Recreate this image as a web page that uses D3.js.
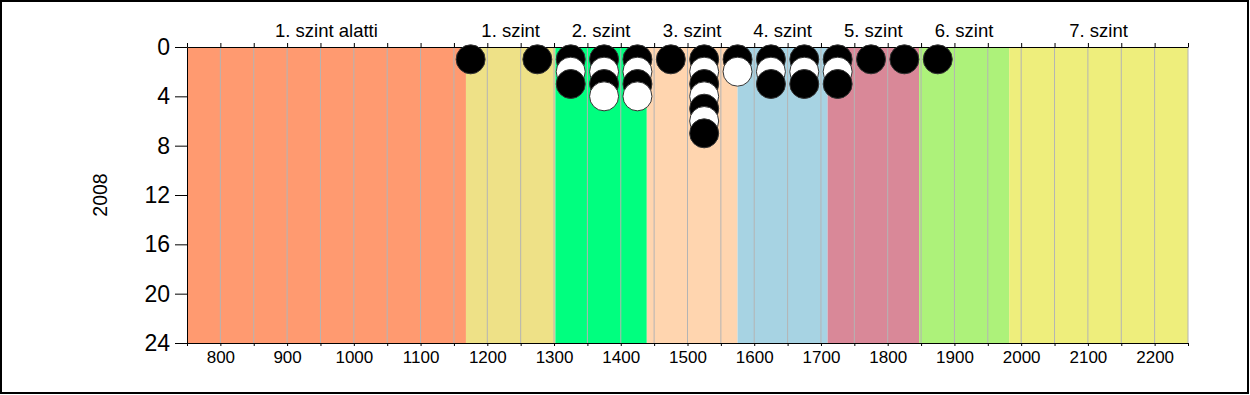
<!DOCTYPE html>
<html>
<head>
<meta charset="utf-8">
<script src="https://cdn.jsdelivr.net/npm/d3@7"></script>
<style>
  html, body { margin: 0; padding: 0; background: #fff; }
  svg { display: block; font-family: "Liberation Sans", Arial, sans-serif; }
</style>
</head>
<body>
<div id="chart"></div>
<script>
// level bands (edges on the score axis)
const bandNames = ['1. szint alatti', '1. szint', '2. szint', '3. szint', '4. szint', '5. szint', '6. szint', '7. szint'];
const bandEdges = [750, 1168, 1302, 1439, 1575, 1710, 1847, 1982, 2250];
const bandColors = ['#FF9A70', '#EEE187', '#00FF7F', '#FFD5AF', '#A7D3E3', '#D98898', '#ADF27A', '#EEEE7C'];

// score bins and number of students per bin
const scoreBins = [1175, 1275, 1325, 1375, 1425, 1475, 1525, 1575, 1625, 1675, 1725, 1775, 1825, 1875];
const binCounts = [1, 1, 3, 4, 4, 1, 7, 2, 3, 3, 3, 1, 1, 1];

const xTickLabels = [800, 900, 1000, 1100, 1200, 1300, 1400, 1500, 1600, 1700, 1800, 1900, 2000, 2100, 2200];
const yTickLabels = [0, 4, 8, 12, 16, 20, 24];
const yearLabel = '2008';

const W = 1250, H = 395;
const margin = {top: 47, right: 62, bottom: 52, left: 187};
const pw = W - margin.left - margin.right,
  ph = H - margin.top - margin.bottom;

const svg = d3.select('#chart').append('svg')
  .attr('width', W)
  .attr('height', H);

// outer frame
svg.append('rect')
  .attr('x', 1).attr('y', 1)
  .attr('width', W - 3).attr('height', H - 3)
  .attr('fill', 'none')
  .attr('stroke', '#000')
  .attr('stroke-width', 2);

const x = d3.scaleLinear().domain([bandEdges[0], bandEdges[bandEdges.length - 1]]).range([0, pw]);
const y = d3.scaleLinear().domain([0, 24]).range([0, ph]);

const g = svg.append('g').attr('transform', `translate(${margin.left},${margin.top})`);

const bands = bandNames.map((name, i) => ({name, x0: bandEdges[i], x1: bandEdges[i + 1], color: bandColors[i]}));

g.append('g').selectAll('rect')
  .data(bands).enter().append('rect')
    .attr('x', d => x(d.x0))
    .attr('y', 0)
    .attr('width', d => x(d.x1) - x(d.x0))
    .attr('height', ph)
    .attr('fill', d => d.color);

// vertical grid every 50
const gridVals = d3.range(800, 2251, 50);
g.append('g').selectAll('line')
  .data(gridVals).enter().append('line')
    .attr('x1', d => x(d)).attr('x2', d => x(d))
    .attr('y1', 0).attr('y2', ph)
    .attr('stroke', '#b4b4b4')
    .attr('stroke-width', 1);

// band labels above the plot
g.append('g').selectAll('text')
  .data(bands).enter().append('text')
    .attr('x', d => (x(d.x0) + x(d.x1)) / 2)
    .attr('y', -10)
    .attr('text-anchor', 'middle')
    .style('font-size', '18.5px')
    .text(d => d.name);

// axes
const topAxis = g.append('g')
  .call(d3.axisTop(x).tickValues(d3.range(750, 2251, 50)).tickSize(4).tickFormat('').tickSizeOuter(0));
topAxis.select('.domain').attr('stroke', '#000');

const bottomAxis = g.append('g')
  .attr('transform', `translate(0,${ph})`)
  .call(d3.axisBottom(x).tickValues(d3.range(750, 2251, 50)).tickSize(3).tickSizeOuter(0)
    .tickFormat(d => xTickLabels.includes(d) ? d : ''));
bottomAxis.selectAll('text').style('font-size', '17px').attr('dy', '0.8em').attr('fill', '#000');

const leftAxis = g.append('g')
  .call(d3.axisLeft(y).tickValues(yTickLabels).tickSize(12).tickSizeOuter(0).tickPadding(5));
leftAxis.selectAll('text').style('font-size', '23px').attr('fill', '#000');
leftAxis.select('.domain').attr('stroke', '#000');

svg.append('text')
  .attr('transform', `translate(107,${margin.top + ph / 2}) rotate(-90)`)
  .attr('text-anchor', 'middle')
  .style('font-size', '19.5px')
  .text(yearLabel);

// stacked dots, alternating black / white
const points = [];
scoreBins.forEach((s, i) => {
  for (let k = 1; k <= binCounts[i]; k++) points.push({score: s, k});
});

g.append('g').selectAll('circle')
  .data(points).enter().append('circle')
    .attr('cx', d => x(d.score))
    .attr('cy', d => y(d.k))
    .attr('r', 14.5)
    .attr('fill', d => d.k % 2 === 1 ? '#000' : '#fff')
    .attr('stroke', '#333')
    .attr('stroke-width', 1);
</script>
</body>
</html>
